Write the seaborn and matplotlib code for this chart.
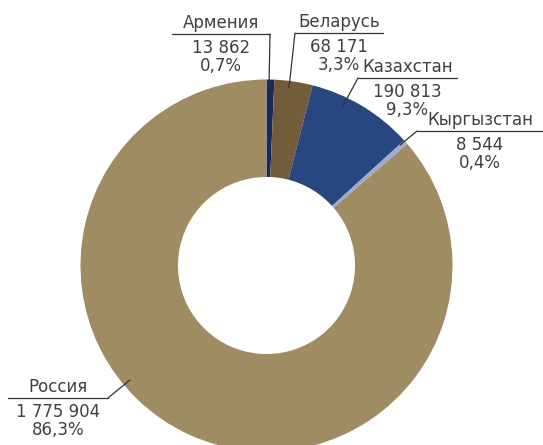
import matplotlib
matplotlib.use("Agg")
import matplotlib.pyplot as plt
import seaborn as sns

# data
countries = ["Армения", "Беларусь", "Казахстан", "Кыргызстан", "Россия"]
values = [13862, 68171, 190813, 8544, 1775904]
value_labels = ["13 862", "68 171", "190 813", "8 544", "1 775 904"]
pct_labels = ["0,7%", "3,3%", "9,3%", "0,4%", "86,3%"]
colors = ["#182a5a", "#735c3a", "#284780", "#9eabd0", "#a08c63"]

# label layout in pixels: underline x0, x1, y, leader end x, y, which end gets the leader
label_layout = [
    (172, 270, 34, 269, 86, "right"),
    (295, 383, 33, 289, 88, "left"),
    (358, 457, 78, 343, 106, "left"),
    (417, 543, 131, 400, 145, "left"),
    (8, 108, 398, 130, 380, "right"),
]

W, H = 543, 445
CX, CY, R = 266.5, 265.5, 186


def to_data(px, py):
    return (px - CX) / R, (CY - py) / R


sns.set_style("white")
plt.rcParams["font.family"] = ["DejaVu Sans"]

fig = plt.figure(figsize=(W / 100, H / 100), dpi=100)
ax = fig.add_axes([0, 0, 1, 1])

ax.pie(values, colors=colors, startangle=90, counterclock=False, radius=1,
       wedgeprops=dict(width=0.524, linewidth=0))

ax.set_xlim(-CX / R, (W - CX) / R)
ax.set_ylim(-(H - CY) / R, CY / R)
ax.set_aspect("equal")
ax.axis("off")

text_color = "#404040"
for name, vl, pl, (x0, x1, y, ex, ey, side) in zip(countries, value_labels, pct_labels, label_layout):
    ax0, ay = to_data(x0, y)
    ax1, _ = to_data(x1, y)
    exd, eyd = to_data(ex, ey)
    ax.plot([ax0, ax1], [ay, ay], color="#333333", lw=0.9)
    sx = ax1 if side == "right" else ax0
    ax.plot([sx, exd], [ay, eyd], color="#333333", lw=0.9)
    mx = (ax0 + ax1) / 2
    ax.text(mx, ay + 2 / R, name, ha="center", va="bottom", fontsize=12, color=text_color)
    ax.text(mx, ay - 5 / R, vl + "\n" + pl, ha="center", va="top", fontsize=12,
            color=text_color, linespacing=1.0)

fig.savefig("out.png", dpi=100)
